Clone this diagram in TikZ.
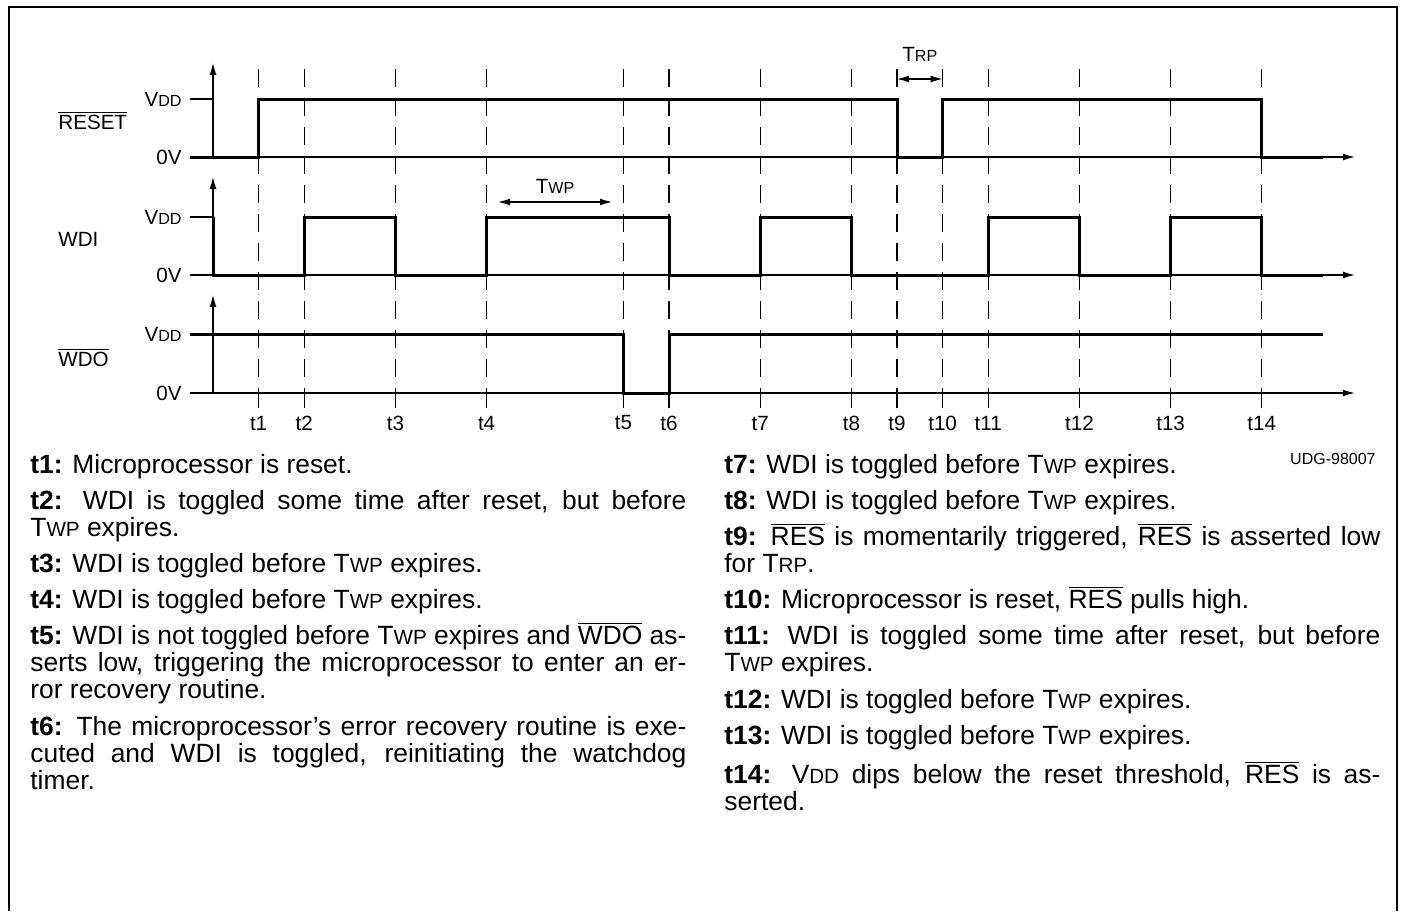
\documentclass[tikz,border=0pt]{standalone}
\usepackage{fontspec}
\setmainfont{Liberation Sans}
\usetikzlibrary{arrows.meta}
\newcommand{\smc}[1]{\scalebox{0.78}{#1}}
\newcommand{\ovl}[1]{$\overline{\hbox{#1}}$}
\tikzset{
  wave/.style = {line width=1.5pt, line join=miter},
  thinline/.style = {line width=0.6pt},
  axis/.style = {thinline, -{Latex[length=6pt,width=3.5pt]}},
  tmark/.style = {thinline, dash pattern=on 9pt off 5.5pt},
  lbl/.style = {inner sep=0pt, font=\fontsize{10.3}{12}\selectfont},
  lvl/.style = {lbl, anchor=east},
  signame/.style = {lbl, anchor=west},
  spanarrow/.style = {thinline, {Latex[length=6pt,width=3.5pt]}-{Latex[length=6pt,width=3.5pt]}},
  desc/.style = {anchor=base west, inner sep=0pt, text width=328pt, align=justify, font=\fontsize{13.2}{13.5}\selectfont},
}

\begin{document}
\begin{tikzpicture}[x=0.5pt, y=-0.5pt]
\useasboundingbox (0,0) rectangle (1403,911);
% frame, open at the bottom
\draw[line width=1pt] (9,911) -- (9,7) -- (1397,7) -- (1397,911);

% signal names
\node[signame] (reset) at (58,120) {\ovl{RESET}};
\node[signame] (wdi) at (58,239) {WDI};
\node[signame] (wdo) at (58,357) {\ovl{WDO}};

\begin{scope}[xshift=106.5pt, x=22.8pt]
% axes and levels
\foreach \hi/\lo/\tip/\nm in {99/157/63/a, 217/275/177/b, 334/393/295/c} {
  \draw[thinline] (-0.5,\hi) -- (0,\hi);
  \draw[axis] (0,\lo) -- (0,\tip);
  \draw[axis] (-0.5,\lo) -- (25.04,\lo);
  \node[lvl] (vdd\nm) at (-0.68,\hi) {V\smc{DD}};
  \node[lvl] (gnd\nm) at (-0.68,\lo) {0V};
}

% time marks
\foreach \t/\nm in {1/t1, 2/t2, 4/t3, 6/t4, 9/t5, 10/t6, 12/t7, 14/t8, 15/t9, 16/t10, 17/t11, 19/t12, 21/t13, 23/t14} {
  \draw[tmark] (\t,69) -- (\t,393);
  \draw[thinline] (\t,393) -- (\t,408);
  \node[lbl] (\nm) at (\t,423) {\nm};
}

% waveforms
\draw[wave] (-0.5,157) -- (1,157) -- (1,99) -- (15,99) -- (15,157) -- (16,157) -- (16,99)
  -- (23,99) -- (23,157) -- (24.34,157);
\draw[wave] (0,217) -- (0,275) -- (2,275) -- (2,217) -- (4,217) -- (4,275) -- (6,275) -- (6,217)
  -- (10,217) -- (10,275) -- (12,275) -- (12,217) -- (14,217) -- (14,275) -- (17,275) -- (17,217)
  -- (19,217) -- (19,275) -- (21,275) -- (21,217) -- (23,217) -- (23,275) -- (24.34,275);
\draw[wave] (-0.5,334) -- (9,334) -- (9,393) -- (10,393) -- (10,334) -- (24.34,334);

% TWP and TRP spans
\coordinate (twpL) at (6.25,202);
\coordinate (twpR) at (8.75,202);
\draw[spanarrow] (twpL) -- (twpR);
\node[lbl] (twp) at (7.5,186) {T\smc{WP}};
\coordinate (trpL) at (15,79);
\coordinate (trpR) at (16,79);
\draw[spanarrow] (trpL) -- (trpR);
\node[lbl] (trp) at (15.5,54) {T\smc{RP}};
\end{scope}

\node[lbl, anchor=east, font=\fontsize{8}{10}\selectfont] (udg) at (1376,459) {UDG-98007};

% event notes
\node[desc] (notesL) at (30,473) {\setlength{\parskip}{4.6pt}\lineskiplimit=-20pt\hyphenpenalty=10000\tolerance=9999
\textbf{t1:} Microprocessor is reset.\par
\textbf{t2:} WDI is toggled some time after reset, but before\linebreak T\smc{WP} expires.\par
\textbf{t3:} WDI is toggled before T\smc{WP} expires.\par
\textbf{t4:} WDI is toggled before T\smc{WP} expires.\par
\textbf{t5:} WDI is not toggled before T\smc{WP} expires and \ovl{WDO} as-\linebreak serts low, triggering the microprocessor to enter an er-\linebreak ror recovery routine.\par
\textbf{t6:} The microprocessor’s error recovery routine is exe-\linebreak cuted and WDI is toggled, reinitiating the watchdog\linebreak timer.};
\node[desc] (notesR) at (724,473) {\setlength{\parskip}{4.6pt}\lineskiplimit=-20pt\hyphenpenalty=10000\tolerance=9999
\textbf{t7:} WDI is toggled before T\smc{WP} expires.\par
\textbf{t8:} WDI is toggled before T\smc{WP} expires.\par
\textbf{t9:} \ovl{RES} is momentarily triggered, \ovl{RES} is asserted low\linebreak for T\smc{RP}.\par
\textbf{t10:} Microprocessor is reset, \ovl{RES} pulls high.\par
\textbf{t11:} WDI is toggled some time after reset, but before\linebreak T\smc{WP} expires.\par
\textbf{t12:} WDI is toggled before T\smc{WP} expires.\par
\textbf{t13:} WDI is toggled before T\smc{WP} expires.\par
\textbf{t14:} V\smc{DD} dips below the reset threshold, \ovl{RES} is as-\linebreak serted.};
\end{tikzpicture}
\end{document}
